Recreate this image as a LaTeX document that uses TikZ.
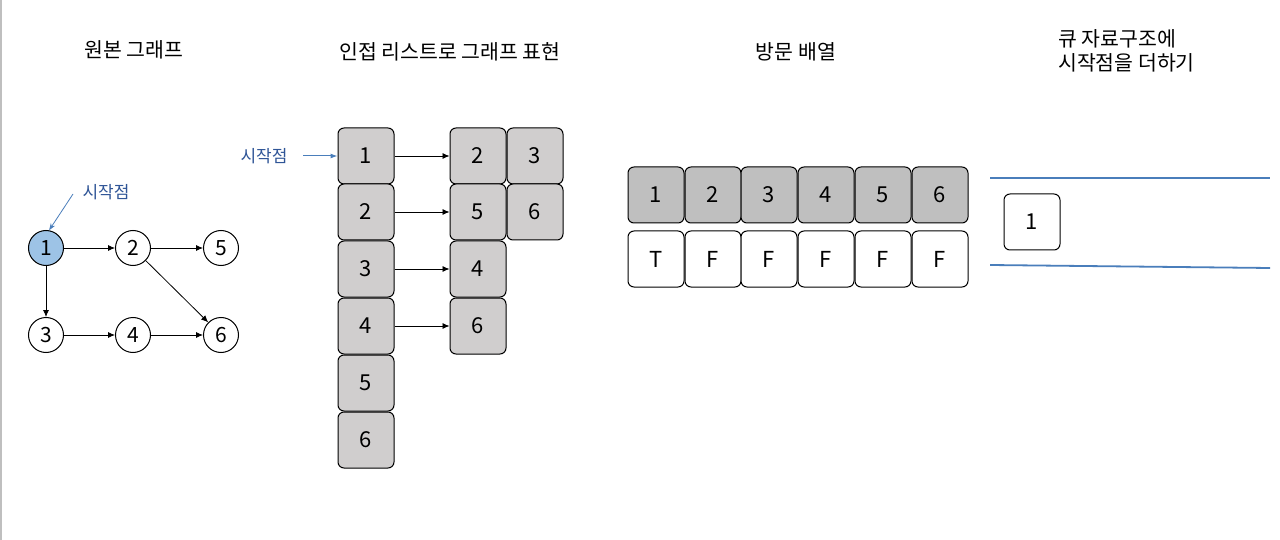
\documentclass[tikz,border=0pt]{standalone}
\usepackage{fontspec}
\setmainfont{Noto Sans CJK KR}
\usetikzlibrary{arrows.meta}
\definecolor{boxgray}{HTML}{D0CECE}
\definecolor{arrgray}{HTML}{BFBFBF}
\definecolor{nodeblue}{HTML}{9DC3E6}
\definecolor{lineblue}{HTML}{4A7EBB}
\definecolor{txtblue}{HTML}{2F5597}
\begin{document}
\begin{tikzpicture}[x=1pt,y=-1pt,
  gnode/.style={circle,draw=black,line width=1pt,minimum size=35pt,inner sep=0pt,font=\fontsize{21}{21}\selectfont},
  garrow/.style={-{Latex[length=7pt,width=6pt]},line width=0.8pt},
  cell/.style={draw=black,line width=1pt,rounded corners=6pt,minimum width=56pt,minimum height=56pt,inner sep=0pt,font=\fontsize{22}{22}\selectfont},
  listcell/.style={cell,fill=boxgray},
  visitcell/.style={cell,fill=arrgray},
  flagcell/.style={cell,fill=white},
  title/.style={font=\fontsize{20.5}{24}\selectfont,inner sep=0pt},
  startlbl/.style={font=\fontsize{17}{17}\selectfont,text=txtblue,inner sep=0pt},
  blueline/.style={draw=lineblue,line width=1.8pt}
]
\useasboundingbox (0,0) rectangle (1280,540);
\fill[white] (0,0) rectangle (1280,540);
\draw[arrgray,line width=1.5pt] (1,0) -- (1,540);

% titles
\node[title] (t1) at (134,50) {원본 그래프};
\node[title] (t2) at (450,52) {인접 리스트로 그래프 표현};
\node[title] (t3) at (796,52) {방문 배열};
\node[title,anchor=west,align=left] (t4) at (1058,51) {큐 자료구조에\\시작점을 더하기};

% original graph
\node[gnode,fill=nodeblue] (g1) at (46,248) {1};
\node[gnode] (g2) at (133,248) {2};
\node[gnode] (g5) at (221,248) {5};
\node[gnode] (g3) at (46,335) {3};
\node[gnode] (g4) at (133,335) {4};
\node[gnode] (g6) at (221,335) {6};
\draw[garrow] (g1) -- (g2);
\draw[garrow] (g2) -- (g5);
\draw[garrow] (g1) -- (g3);
\draw[garrow] (g3) -- (g4);
\draw[garrow] (g4) -- (g6);
\draw[garrow] (g2) -- (g6);
\node[startlbl] (s1) at (106,192) {시작점};
\coordinate (s1a) at (73,194);
\draw[lineblue,line width=0.8pt,-{Stealth[length=7pt,width=5pt]}] (s1a) -- (g1.80);

% adjacency list
\foreach \i/\y in {1/156,2/212,3/269,4/326,5/383,6/440}{
  \node[listcell] (a\i) at (366,\y) {\i};
}
\node[listcell] (b1) at (478,156) {2};
\node[listcell] (c1) at (535,156) {3};
\node[listcell] (b2) at (478,212) {5};
\node[listcell] (c2) at (535,212) {6};
\node[listcell] (b3) at (478,269) {4};
\node[listcell] (b4) at (478,326) {6};
\foreach \i in {1,2,3,4}{
  \draw[garrow] (a\i) -- (b\i);
}
\node[startlbl] (s2) at (264,156) {시작점};
\coordinate (s2a) at (303,156);
\draw[lineblue,line width=1pt,-{Latex[length=7pt,width=5pt]}] (s2a) -- (a1);

% visit array
\foreach \i/\x/\f in {1/656/T,2/713/F,3/769/F,4/826/F,5/883/F,6/940/F}{
  \node[visitcell] (v\i) at (\x,195) {\i};
  \node[flagcell] (f\i) at (\x,259) {\f};
}

% queue
\coordinate (q1l) at (990,178);
\coordinate (q1r) at (1270,178);
\coordinate (q2l) at (990,265);
\coordinate (q2r) at (1270,268);
\draw[blueline] (q1l) -- (q1r);
\draw[blueline] (q2l) -- (q2r);
\node[flagcell] (q1) at (1032,222) {1};
\end{tikzpicture}
\end{document}
